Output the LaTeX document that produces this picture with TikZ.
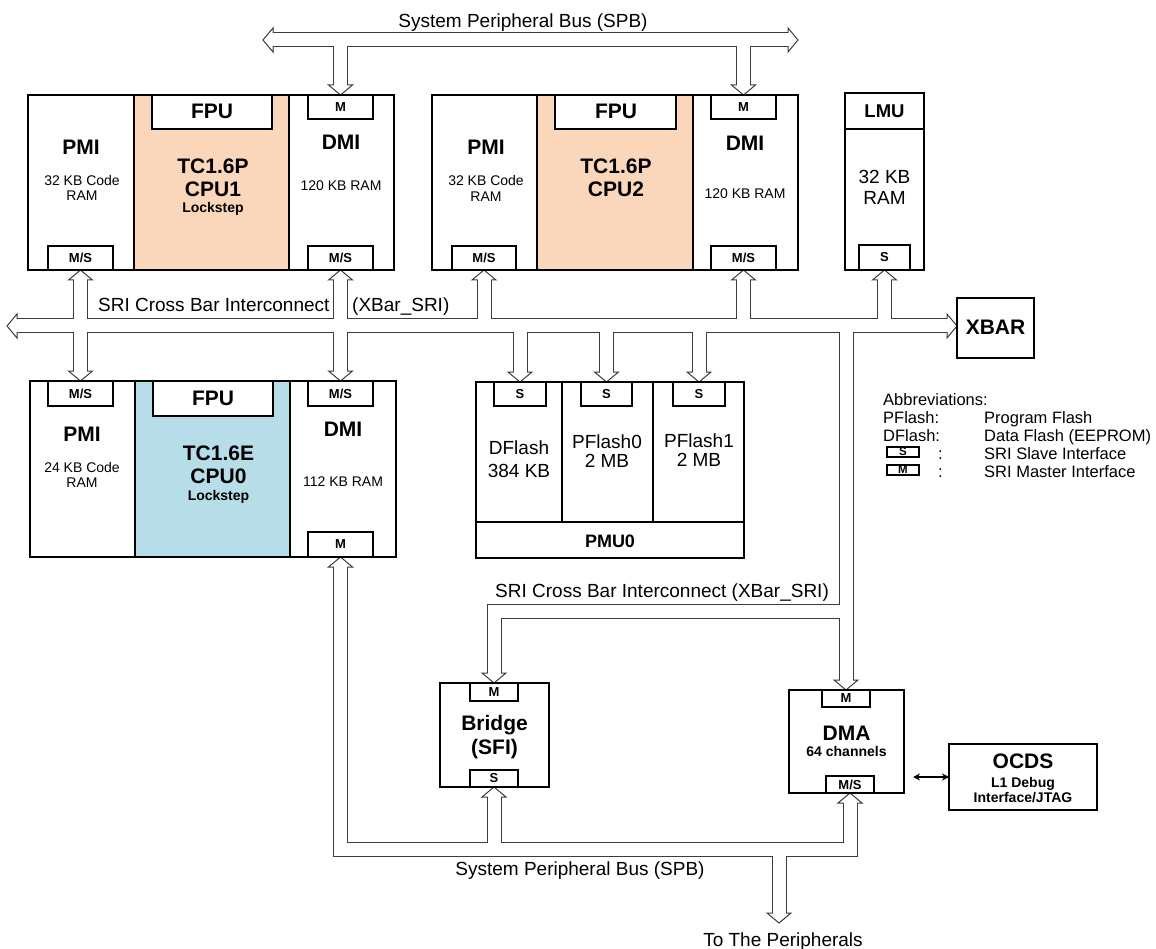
\documentclass[tikz,border=0pt]{standalone}
\usepackage{fontspec}
\setmainfont{Liberation Sans}
\usetikzlibrary{fit,calc,arrows.meta}
\definecolor{peach}{RGB}{250,215,186}
\definecolor{lblue}{RGB}{182,221,232}
\definecolor{busc}{RGB}{60,60,60}
\pgfdeclarelayer{bg}
\pgfsetlayers{bg,main}
\newcommand{\fs}[1]{\fontsize{#1}{#1}\selectfont}
\newcommand{\rbox}[6][]{\node[blk,#1,fit={(#3,#4) (#5,#6)}] (#2) {};}
\newcommand{\hdD}[1]{\draw[headst,shift={#1}] (-12,-10) -- (0,0) -- (12,-10) -- cycle;}
\newcommand{\hdU}[1]{\draw[headst,shift={#1}] (-12,10) -- (0,0) -- (12,10) -- cycle;}
\newcommand{\hdL}[1]{\draw[headst,shift={#1}] (10,-12) -- (0,0) -- (10,12) -- cycle;}
\newcommand{\hdR}[1]{\draw[headst,shift={#1}] (-10,-12) -- (0,0) -- (-10,12) -- cycle;}
\tikzset{
  blk/.style={draw=black, line width=2pt, inner sep=0pt, outer sep=0pt},
  busB/.style={draw=busc, line width=15pt, line join=miter},
  busW/.style={draw=white, line width=13pt, line join=miter},
  headst/.style={draw=busc, fill=white, line width=1pt, line join=miter},
  tx/.style={inner sep=0pt, anchor=base},
  txw/.style={inner sep=0pt, anchor=base west},
  b21/.style={tx, font=\bfseries\fs{21}},
  b18/.style={tx, font=\bfseries\fs{18.5}},
  b14/.style={tx, font=\bfseries\fs{14}},
  r14/.style={tx, font=\fs{14}},
  r19/.style={tx, font=\fs{19}},
  r16/.style={txw, font=\fs{16.5}},
  ifl/.style={inner sep=0pt, font=\bfseries\fs{13}},
  dbl/.style={{Stealth[length=7pt,width=7pt]}-{Stealth[length=7pt,width=7pt]}, line width=1.2pt},
}
\begin{document}
\begin{tikzpicture}[x=1pt,y=-1pt]
\useasboundingbox (0,0) rectangle (1156,949);

% ---------------- CPU1 ----------------
\rbox{cpu1}{28}{95}{394}{270}
\draw[blk] (134,95) -- (134,270) (289,95) -- (289,270);
\rbox[fill=white]{c1fpu}{152}{95}{272}{129}
\rbox[fill=white]{c1dmiM}{308}{95}{373}{119}
\rbox[fill=white]{c1pmiMS}{48}{246}{113}{270}
\rbox[fill=white]{c1dmiMS}{308}{246}{373}{270}
\node[ifl] at (c1dmiM) {M};
\node[ifl] at (c1pmiMS) {M/S};
\node[ifl] at (c1dmiMS) {M/S};
\node[b21] at (212,119) {FPU};
\node[b21] at (81,155) {PMI};
\node[r14] at (82,186) {32 KB Code};
\node[r14] at (82,201) {RAM};
\node[b21] at (213,174) {TC1.6P};
\node[b21] at (213,197) {CPU1};
\node[b14] at (213,213) {Lockstep};
\node[b21] at (341,150) {DMI};
\node[r14] at (341,191) {120 KB RAM};

% ---------------- CPU2 ----------------
\rbox{cpu2}{432}{95}{798}{270}
\draw[blk] (537,95) -- (537,270) (693,95) -- (693,270);
\rbox[fill=white]{c2fpu}{555}{95}{676}{129}
\rbox[fill=white]{c2dmiM}{711}{95}{776}{119}
\rbox[fill=white]{c2pmiMS}{452}{246}{516}{270}
\rbox[fill=white]{c2dmiMS}{711}{246}{776}{270}
\node[ifl] at (c2dmiM) {M};
\node[ifl] at (c2pmiMS) {M/S};
\node[ifl] at (c2dmiMS) {M/S};
\node[b21] at (616,119) {FPU};
\node[b21] at (486,155) {PMI};
\node[r14] at (486,186) {32 KB Code};
\node[r14] at (486,202) {RAM};
\node[b21] at (616,174) {TC1.6P};
\node[b21] at (616,197) {CPU2};
\node[b21] at (745,151) {DMI};
\node[r14] at (745,199) {120 KB RAM};

% ---------------- LMU / XBAR ----------------
\rbox{lmu}{845}{93}{924}{270}
\draw[blk] (845,129) -- (924,129);
\rbox[fill=white]{lmuS}{859}{245}{910}{270}
\node[ifl] at (lmuS) {S};
\node[b18] at (884.5,118) {LMU};
\node[r19] at (884.5,184) {32 KB};
\node[r19] at (884.5,205) {RAM};
\rbox{xbar}{957}{298}{1034}{358}
\node[b21] at (995.5,335) {XBAR};

% ---------------- CPU0 ----------------
\rbox{cpu0}{30}{381}{396}{557}
\draw[blk] (135,381) -- (135,557) (290,381) -- (290,557);
\rbox[fill=white]{c0fpu}{153}{381}{273}{416}
\rbox[fill=white]{c0pmiMS}{48}{381}{113}{406}
\rbox[fill=white]{c0dmiMS}{308}{381}{373}{406}
\rbox[fill=white]{c0dmiM}{308}{532}{373}{557}
\node[ifl] at (c0pmiMS) {M/S};
\node[ifl] at (c0dmiMS) {M/S};
\node[ifl] at (c0dmiM) {M};
\node[b21] at (213,405) {FPU};
\node[b21] at (82,441) {PMI};
\node[r14] at (82,472) {24 KB Code};
\node[r14] at (82,487) {RAM};
\node[b21] at (218.5,460) {TC1.6E};
\node[b21] at (218.5,483) {CPU0};
\node[b14] at (218.5,500) {Lockstep};
\node[b21] at (343,436) {DMI};
\node[r14] at (343,486) {112 KB RAM};

% ---------------- PMU0 ----------------
\rbox{pmu}{476}{382}{744}{558}
\draw[blk] (562,382) -- (562,522) (653,382) -- (653,522) (476,522) -- (744,522);
\rbox[fill=white]{pmuS1}{494}{382}{546}{406}
\rbox[fill=white]{pmuS2}{581}{382}{632}{406}
\rbox[fill=white]{pmuS3}{673}{382}{725}{406}
\node[ifl] at (pmuS1) {S};
\node[ifl] at (pmuS2) {S};
\node[ifl] at (pmuS3) {S};
\node[r19] at (519,454) {DFlash};
\node[r19] at (519,477) {384 KB};
\node[r19] at (607,448) {PFlash0};
\node[r19] at (607,467) {2 MB};
\node[r19] at (699,447) {PFlash1};
\node[r19] at (699,466) {2 MB};
\node[tx, font=\bfseries\fs{18}] at (610,547) {PMU0};

% ---------------- Bridge / DMA / OCDS ----------------
\rbox{bridge}{440}{683}{549}{787}
\rbox[fill=white]{brM}{470}{683}{518}{701}
\rbox[fill=white]{brS}{470}{770}{518}{787}
\node[ifl] at (brM) {M};
\node[ifl] at (brS) {S};
\node[b21] at (494.5,730) {Bridge};
\node[b21] at (494.5,754) {(SFI)};

\rbox{dma}{789}{690}{904}{793}
\rbox[fill=white]{dmaM}{822}{690}{870}{707}
\rbox[fill=white]{dmaMS}{826}{776}{874}{793}
\node[ifl] at (dmaM) {M};
\node[ifl] at (dmaMS) {M/S};
\node[b21] at (846.5,740) {DMA};
\node[b14] at (846.5,756) {64 channels};

\rbox{ocds}{949}{744}{1097}{810}
\node[b21] at (1023,768) {OCDS};
\node[b14] at (1023,787) {L1 Debug};
\node[b14] at (1023,802) {Interface/JTAG};

\path (dma.east) ++(9,35.5) coordinate (dA);
\draw[dbl] (dA) -- (dA -| ocds.west);

% ---------------- Abbreviations ----------------
\node[r16] at (883,405) {Abbreviations:};
\node[r16] at (883,423) {PFlash:};
\node[r16] at (984,423) {Program Flash};
\node[r16] at (883,441) {DFlash:};
\node[r16] at (984,441) {Data Flash (EEPROM)};
\rbox[line width=1.5pt]{abS}{887}{447}{919}{457}
\rbox[line width=1.5pt]{abM}{887}{465}{919}{475}
\node[inner sep=0pt, font=\bfseries\fs{11.5}] at (abS) {S};
\node[inner sep=0pt, font=\bfseries\fs{11.5}] at (abM) {M};
\node[r16] at (938,459) {:};
\node[r16] at (938,477) {:};
\node[r16] at (984,459) {SRI Slave Interface};
\node[r16] at (984,477) {SRI Master Interface};

% ---------------- Bus labels ----------------
\node[r19] at (523,28) {System Peripheral Bus (SPB)};
\node[txw, font=\fs{19}] at (98,312) {SRI Cross Bar Interconnect};
\node[txw, font=\fs{19}] at (352,312) {(XBar\_SRI)};
\node[txw, font=\fs{19}] at (495,597) {SRI Cross Bar Interconnect (XBar\_SRI)};
\node[r19] at (580,875) {System Peripheral Bus (SPB)};
\node[r19] at (783,946) {To The Peripherals};

% ---------------- Buses (hollow) ----------------
\coordinate (spbY) at (0,40);
\coordinate (sriY) at (0,326);
\coordinate (lsriY) at (0,611);
\coordinate (lspbY) at (0,849);
\coordinate (spbL) at (263,40);
\coordinate (spbR) at (798,40);
\coordinate (sriL) at (7,326);
\coordinate (periph) at (779,923);

\newcommand{\netA}{($(spbL)+(8.5,0)$) -- ($(spbR)+(-8.5,0)$)
  (c1dmiM.north |- spbY) -- ($(c1dmiM.north)+(0,-8.5)$)
  (c2dmiM.north |- spbY) -- ($(c2dmiM.north)+(0,-8.5)$)}
\newcommand{\netB}{($(sriL)+(8.5,0)$) -- ($(xbar.west |- sriY)+(-8.5,0)$)
  ($(c1pmiMS.south)+(0,8.5)$) -- ($(c0pmiMS.north)+(0,-8.5)$)
  ($(c1dmiMS.south)+(0,8.5)$) -- ($(c0dmiMS.north)+(0,-8.5)$)
  (c2pmiMS.south |- sriY) -- ($(c2pmiMS.south)+(0,8.5)$)
  (c2dmiMS.south |- sriY) -- ($(c2dmiMS.south)+(0,8.5)$)
  (lmuS.south |- sriY) -- ($(lmuS.south)+(0,8.5)$)
  (pmuS1.north |- sriY) -- ($(pmuS1.north)+(0,-8.5)$)
  (pmuS2.north |- sriY) -- ($(pmuS2.north)+(0,-8.5)$)
  (pmuS3.north |- sriY) -- ($(pmuS3.north)+(0,-8.5)$)
  (dmaM.north |- sriY) -- ($(dmaM.north)+(0,-8.5)$)
  (dmaM.north |- lsriY) -- (brM.north |- lsriY) -- ($(brM.north)+(0,-8.5)$)}
\newcommand{\netC}{($(c0dmiM.south)+(0,8.5)$) -- (c0dmiM.south |- lspbY)
  -- (dmaMS.south |- lspbY) -- ($(dmaMS.south)+(0,8.5)$)
  (brS.south |- lspbY) -- ($(brS.south)+(0,8.5)$)
  (periph |- lspbY) -- ($(periph)+(0,-8.5)$)}

\begin{pgfonlayer}{bg}
\fill[peach] (134,95) rectangle (289,270);
\fill[peach] (537,95) rectangle (693,270);
\fill[lblue] (135,381) rectangle (290,557);

\draw[busB] \netA;
\hdL{(spbL)} \hdR{(spbR)} \hdD{(c1dmiM.north)} \hdD{(c2dmiM.north)}
\draw[busW] \netA;

\draw[busB] \netB;
\hdL{(sriL)} \hdR{(xbar.west |- sriY)}
\hdU{(c1pmiMS.south)} \hdU{(c1dmiMS.south)} \hdU{(c2pmiMS.south)}
\hdU{(c2dmiMS.south)} \hdU{(lmuS.south)}
\hdD{(c0pmiMS.north)} \hdD{(c0dmiMS.north)}
\hdD{(pmuS1.north)} \hdD{(pmuS2.north)} \hdD{(pmuS3.north)}
\hdD{(dmaM.north)} \hdD{(brM.north)}
\draw[busW] \netB;

\draw[busB] \netC;
\hdU{(c0dmiM.south)} \hdU{(dmaMS.south)} \hdU{(brS.south)} \hdD{(periph)}
\draw[busW] \netC;
\end{pgfonlayer}
\end{tikzpicture}
\end{document}
